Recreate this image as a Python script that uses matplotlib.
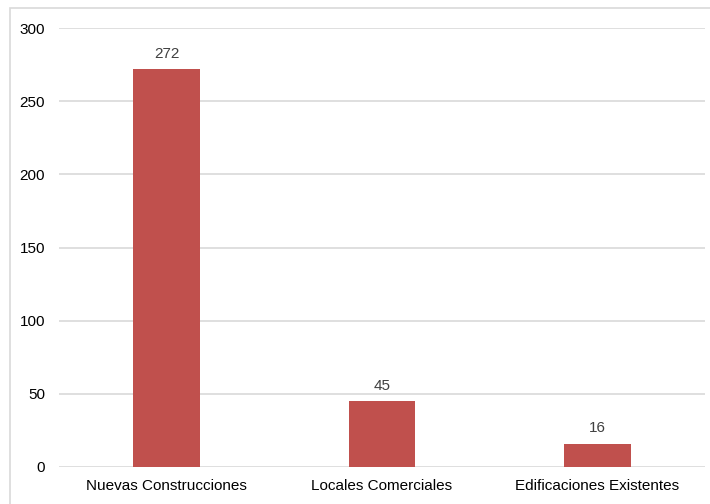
import matplotlib
matplotlib.use("Agg")
import matplotlib.pyplot as plt
from matplotlib.patches import Rectangle

categories = ["Nuevas Construcciones", "Locales Comerciales", "Edificaciones Existentes"]
values = [272, 45, 16]
yticks = [0, 50, 100, 150, 200, 250, 300]

plt.rcParams['font.family'] = ['Liberation Sans', 'DejaVu Sans']

W, H = 710, 504
fig = plt.figure(figsize=(W/100, H/100), dpi=100)
ax = fig.add_axes([59/W, 1-467/H, (705-59)/W, (467-28)/H])

x = list(range(len(categories)))
bars = ax.bar(x, values, width=0.31, color="#C0504D", zorder=3)
for xi, v in zip(x, values):
    ax.annotate(str(v), (xi, v), xytext=(0, 6), textcoords="offset points",
                ha="center", va="bottom", fontsize=11, color="#404040")

ax.set_xlim(-0.5, len(categories)-0.5)
ax.set_ylim(0, 300)
ax.set_yticks(yticks)
ax.set_xticks(x)
ax.set_xticklabels(categories)
ax.grid(axis="y", color="#D9D9D9", linewidth=1.2, zorder=0)
for s in ax.spines.values():
    s.set_visible(False)
ax.tick_params(axis="both", length=0, labelsize=11, colors="#000000")
ax.tick_params(axis="y", pad=10)
ax.tick_params(axis="x", pad=9)

fig.patches.append(Rectangle((10/W, -0.1), 1.2, 1.1 - 8/H, transform=fig.transFigure,
                             fill=False, edgecolor="#D9D9D9", linewidth=1.2))
fig.savefig("out.png", dpi=100)
